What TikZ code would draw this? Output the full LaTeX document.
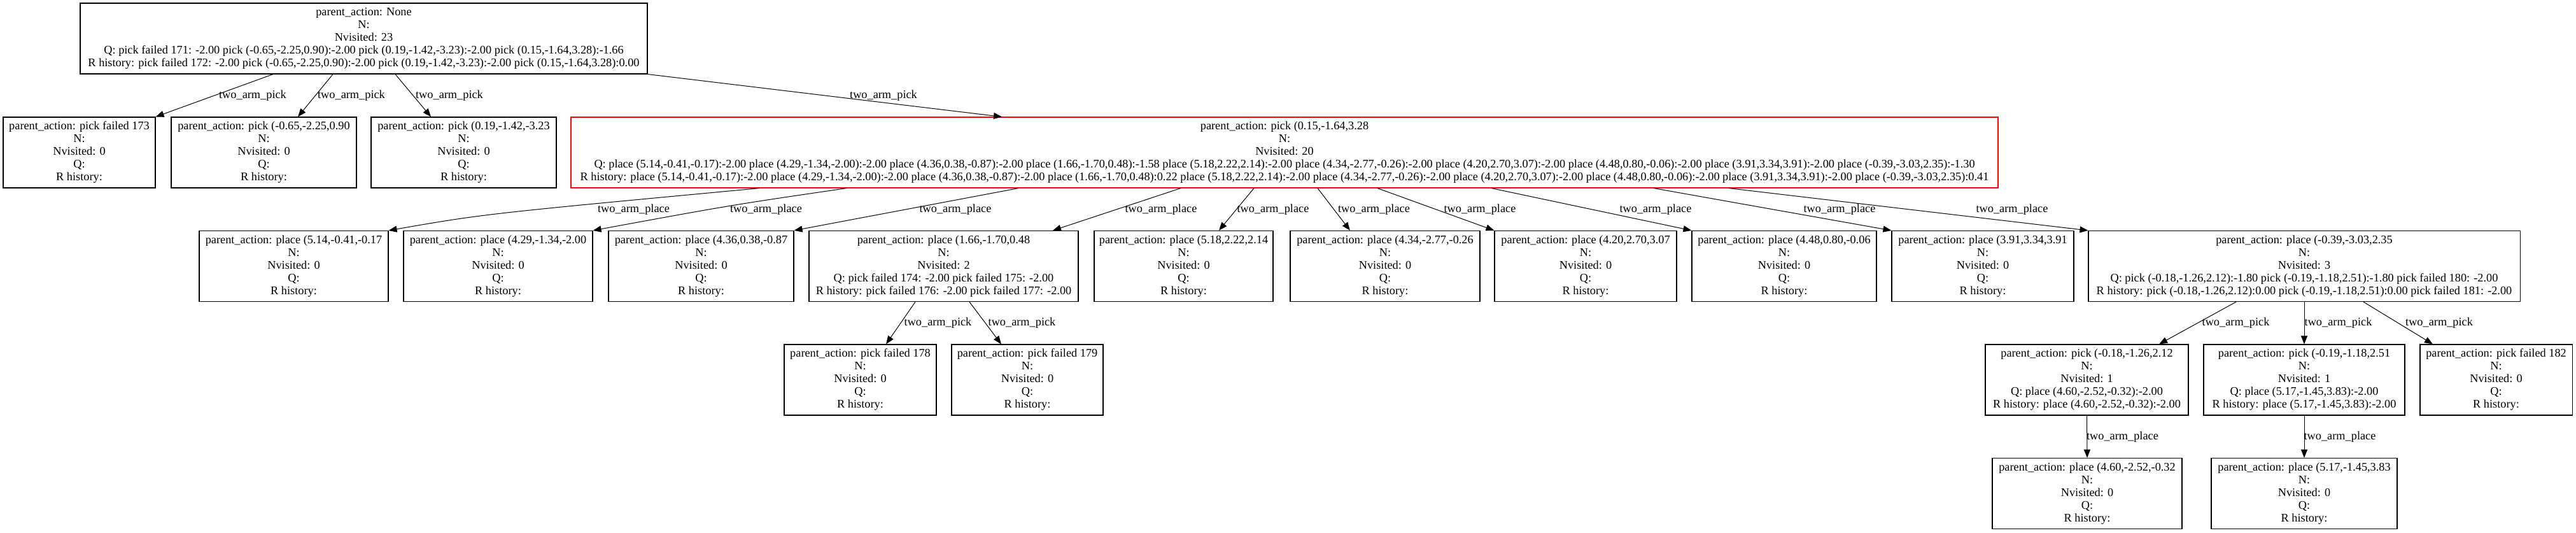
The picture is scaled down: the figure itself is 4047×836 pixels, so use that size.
\documentclass[tikz,border=0pt]{standalone}
\usepackage{fontspec}
\usetikzlibrary{arrows.meta}
\newfontfamily\gvfont{Liberation Serif}
\newcommand\leaftext[1]{parent\_action: #1\\N:\\Nvisited: 0\\Q:\\R history:}
\tikzset{
  gv/.style={font={\gvfont\fontsize{18.3}{20}\selectfont}},
  box/.style={gv, draw, line width=1.1pt, minimum height=111pt, inner sep=0pt, align=center},
  redbox/.style={box, draw=red},
  edge/.style={line width=1pt, -{Triangle[length=13pt,width=10pt]}},
  lbl/.style={gv, inner sep=0pt}
}
\begin{document}
\begin{tikzpicture}[x=1pt,y=-1pt]
\useasboundingbox (0,0) rectangle (4047,836);
% row 1
\node[box, minimum width=891pt] (root) at (571.5,60.5) {parent\_action: None\\N:\\Nvisited: 23\\Q: pick failed 171: -2.00 pick (-0.65,-2.25,0.90):-2.00 pick (0.19,-1.42,-3.23):-2.00 pick (0.15,-1.64,3.28):-1.66\\R history: pick failed 172: -2.00 pick (-0.65,-2.25,0.90):-2.00 pick (0.19,-1.42,-3.23):-2.00 pick (0.15,-1.64,3.28):0.00};
% row 2
\node[box, minimum width=239pt] (n173) at (124.5,239.5) {\leaftext{pick failed 173}};
\node[box, minimum width=291pt] (nA) at (414.5,239.5) {\leaftext{pick (-0.65,-2.25,0.90}};
\node[box, minimum width=291pt] (nB) at (728.5,239.5) {\leaftext{pick (0.19,-1.42,-3.23}};
\node[redbox, minimum width=2242pt] (red) at (2018,239.5) {parent\_action: pick (0.15,-1.64,3.28\\N:\\Nvisited: 20\\Q: place (5.14,-0.41,-0.17):-2.00 place (4.29,-1.34,-2.00):-2.00 place (4.36,0.38,-0.87):-2.00 place (1.66,-1.70,0.48):-1.58 place (5.18,2.22,2.14):-2.00 place (4.34,-2.77,-0.26):-2.00 place (4.20,2.70,3.07):-2.00 place (4.48,0.80,-0.06):-2.00 place (3.91,3.34,3.91):-2.00 place (-0.39,-3.03,2.35):-1.30\\R history: place (5.14,-0.41,-0.17):-2.00 place (4.29,-1.34,-2.00):-2.00 place (4.36,0.38,-0.87):-2.00 place (1.66,-1.70,0.48):0.22 place (5.18,2.22,2.14):-2.00 place (4.34,-2.77,-0.26):-2.00 place (4.20,2.70,3.07):-2.00 place (4.48,0.80,-0.06):-2.00 place (3.91,3.34,3.91):-2.00 place (-0.39,-3.03,2.35):0.41};
% row 3
\node[box, minimum width=297pt] (p1) at (461.5,418) {\leaftext{place (5.14,-0.41,-0.17}};
\node[box, minimum width=297pt] (p2) at (782.5,418) {\leaftext{place (4.29,-1.34,-2.00}};
\node[box, minimum width=291pt] (p3) at (1101.5,418) {\leaftext{place (4.36,0.38,-0.87}};
\node[box, minimum width=423pt] (p4) at (1482.5,418) {parent\_action: place (1.66,-1.70,0.48\\N:\\Nvisited: 2\\Q: pick failed 174: -2.00 pick failed 175: -2.00\\R history: pick failed 176: -2.00 pick failed 177: -2.00};
\node[box, minimum width=281pt] (p5) at (1859.5,418) {\leaftext{place (5.18,2.22,2.14}};
\node[box, minimum width=298pt] (p6) at (2176,418) {\leaftext{place (4.34,-2.77,-0.26}};
\node[box, minimum width=286pt] (p7) at (2491,418) {\leaftext{place (4.20,2.70,3.07}};
\node[box, minimum width=290pt] (p8) at (2803,418) {\leaftext{place (4.48,0.80,-0.06}};
\node[box, minimum width=286pt] (p9) at (3115,418) {\leaftext{place (3.91,3.34,3.91}};
\node[box, minimum width=678pt] (p10) at (3620,418) {parent\_action: place (-0.39,-3.03,2.35\\N:\\Nvisited: 3\\Q: pick (-0.18,-1.26,2.12):-1.80 pick (-0.19,-1.18,2.51):-1.80 pick failed 180: -2.00\\R history: pick (-0.18,-1.26,2.12):0.00 pick (-0.19,-1.18,2.51):0.00 pick failed 181: -2.00};
% row 4
\node[box, minimum width=239pt] (f178) at (1351.5,596.5) {\leaftext{pick failed 178}};
\node[box, minimum width=238pt] (f179) at (1614,596.5) {\leaftext{pick failed 179}};
\node[box, minimum width=319pt] (k1) at (3278.5,596.5) {parent\_action: pick (-0.18,-1.26,2.12\\N:\\Nvisited: 1\\Q: place (4.60,-2.52,-0.32):-2.00\\R history: place (4.60,-2.52,-0.32):-2.00};
\node[box, minimum width=316pt] (k2) at (3620,596.5) {parent\_action: pick (-0.19,-1.18,2.51\\N:\\Nvisited: 1\\Q: place (5.17,-1.45,3.83):-2.00\\R history: place (5.17,-1.45,3.83):-2.00};
\node[box, minimum width=239pt] (f182) at (3921.5,596.5) {\leaftext{pick failed 182}};
% row 5
\node[box, minimum width=298pt] (q1) at (3279,775) {\leaftext{place (4.60,-2.52,-0.32}};
\node[box, minimum width=292pt] (q2) at (3620,775) {\leaftext{place (5.17,-1.45,3.83}};
% edges root -> row 2
\draw[edge] ([xshift=-142.5pt]root.south) -- (n173.north east);
\draw[edge] ([xshift=-48.5pt]root.south) -- ([xshift=53.5pt]nA.north);
\draw[edge] ([xshift=49.5pt]root.south) -- ([xshift=-51.5pt]nB.north);
\draw[edge] (root.south east) -- ([xshift=-444pt]red.north);
\node[lbl] (la1) at (397,150) {two\_arm\_pick};
\node[lbl] (la2) at (552,150) {two\_arm\_pick};
\node[lbl] (la3) at (706,150) {two\_arm\_pick};
\node[lbl] (la4) at (1388,150) {two\_arm\_pick};
% edges red -> row 3
\draw[edge] ([xshift=-825pt]red.south) .. controls (760,336) .. (p1.north east);
\draw[edge] ([xshift=-688pt]red.south) .. controls (1149,322) .. (p2.north east);
\draw[edge] ([xshift=-418pt]red.south) -- (p3.north east);
\draw[edge] ([xshift=-163pt]red.south) -- ([xshift=171.5pt]p4.north);
\draw[edge] ([xshift=-48pt]red.south) -- ([xshift=55.5pt]p5.north);
\draw[edge] ([xshift=52pt]red.south) -- ([xshift=-55pt]p6.north);
\draw[edge] ([xshift=146pt]red.south) -- (p7.north west);
\draw[edge] ([xshift=325pt]red.south) -- (p8.north west);
\draw[edge] ([xshift=580pt]red.south) -- (p9.north west);
\draw[edge] ([xshift=698pt]red.south) -- (p10.north west);
\node[lbl] (lb1) at (995.5,329) {two\_arm\_place};
\node[lbl] (lb2) at (1203.5,329) {two\_arm\_place};
\node[lbl] (lb3) at (1501,329) {two\_arm\_place};
\node[lbl] (lb4) at (1824,329) {two\_arm\_place};
\node[lbl] (lb5) at (2000,329) {two\_arm\_place};
\node[lbl] (lb6) at (2158.5,329) {two\_arm\_place};
\node[lbl] (lb7) at (2325,329) {two\_arm\_place};
\node[lbl] (lb8) at (2601,329) {two\_arm\_place};
\node[lbl] (lb9) at (2890,329) {two\_arm\_place};
\node[lbl] (lb10) at (3161,329) {two\_arm\_place};
% edges row 3 -> row 4
\draw[edge] ([xshift=-44.5pt]p4.south) -- ([xshift=40.5pt]f178.north);
\draw[edge] ([xshift=40.5pt]p4.south) -- ([xshift=-41pt]f179.north);
\draw[edge] ([xshift=-107pt]p10.south) -- ([xshift=113.5pt]k1.north);
\draw[edge] (p10.south) -- (k2.north);
\draw[edge] ([xshift=93pt]p10.south) -- ([xshift=-99.5pt]f182.north);
\node[lbl] (lc1) at (1473.5,507) {two\_arm\_pick};
\node[lbl] (lc2) at (1605.5,507) {two\_arm\_pick};
\node[lbl] (lc3) at (3512.5,507) {two\_arm\_pick};
\node[lbl] (lc4) at (3673.5,507) {two\_arm\_pick};
\node[lbl] (lc5) at (3832,507) {two\_arm\_pick};
% edges row 4 -> row 5
\draw[edge] (k1.south) -- (q1.north);
\draw[edge] (k2.south) -- (q2.north);
\node[lbl] (ld1) at (3334.5,686) {two\_arm\_place};
\node[lbl] (ld2) at (3676,686) {two\_arm\_place};
\end{tikzpicture}
\end{document}
